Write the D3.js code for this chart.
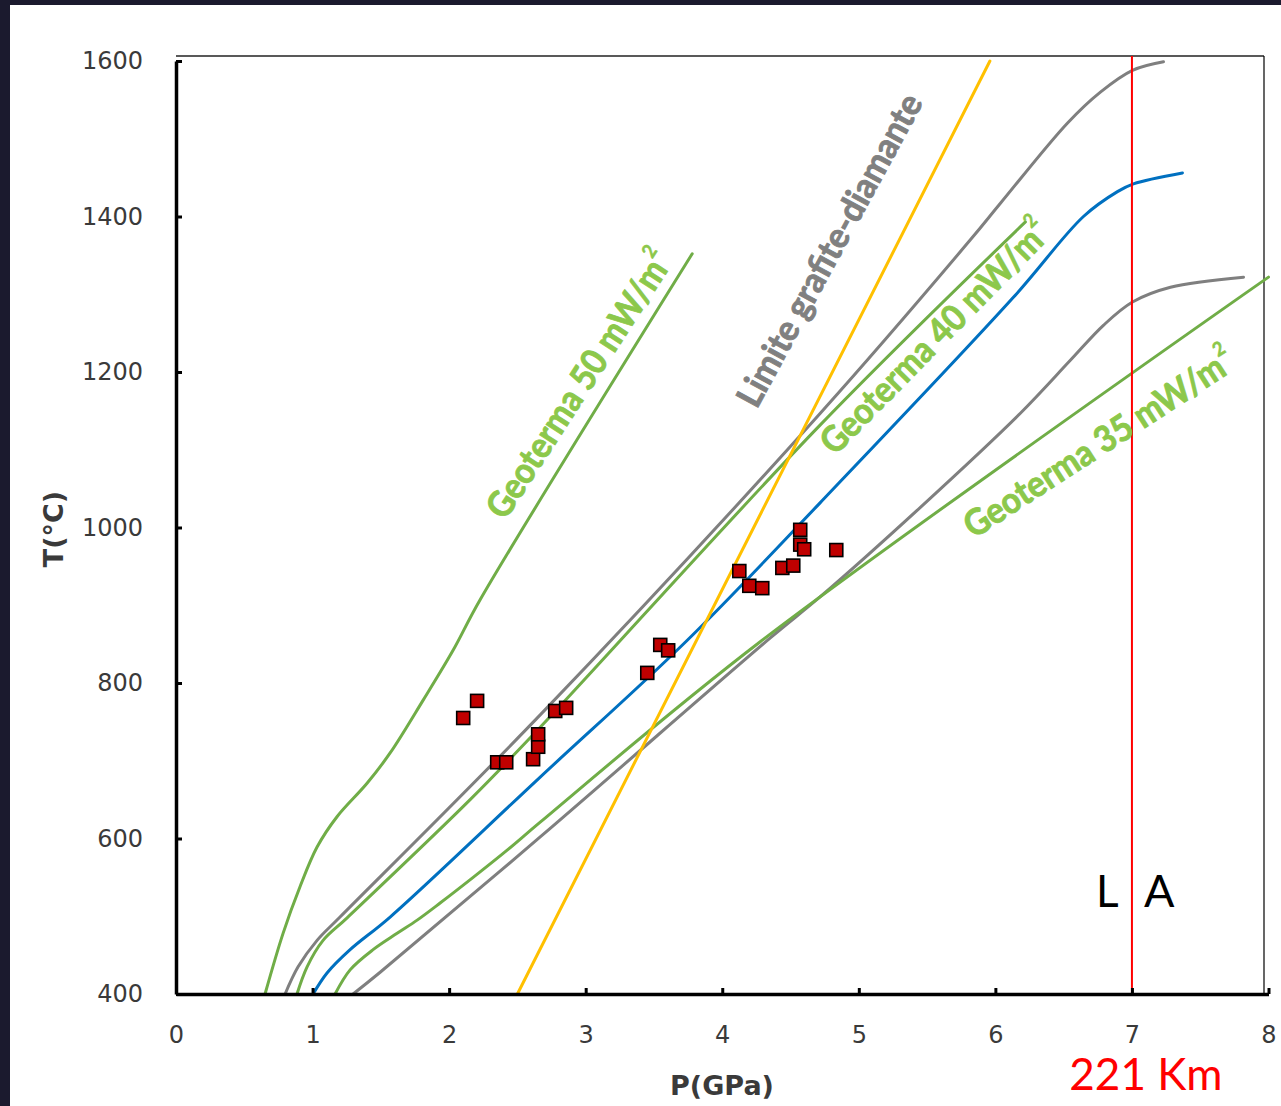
<!DOCTYPE html>
<html><head><meta charset="utf-8">
<script src="https://cdn.jsdelivr.net/npm/d3@7"></script>
<style>html,body{margin:0;padding:0;background:#1b1a2e;}svg{display:block;}</style>
</head><body>
<svg id="chart" width="1281" height="1106"></svg>
<script>
// ---- data (P in GPa, T in °C) ----
const xTicks = [0,1,2,3,4,5,6,7,8];
const yTicks = [400,600,800,1000,1200,1400,1600];

const geotherm50 = [[0.652,400],[0.784,478],[0.908,538],[1.033,589],[1.179,628],[1.399,671],[1.568,710],[1.810,778],[2.029,842],[2.227,907],[3.780,1352]];
const geotherm40 = [[0.886,400],[0.960,435],[1.077,469],[1.253,498],[2.154,650],[2.667,743],[4.718,1132],[6.220,1393]];
const geotherm35 = [[1.165,400],[1.275,431],[1.443,457],[1.619,478],[1.766,495],[1.934,517],[2.176,550],[2.425,585],[2.667,621],[4.278,853],[8.0,1322]];
const grayUpper = [[0.799,400],[0.894,435],[1.033,469],[1.201,499],[2.667,759],[4.718,1147],[5.817,1370],[6.037,1417],[6.527,1520],[6.769,1560],[7.004,1588],[7.231,1599]];
const blueMid = [[1.004,400],[1.106,427],[1.275,457],[1.568,499],[2.667,679],[3.744,855],[4.718,1032],[6.132,1296],[6.645,1400],[6.894,1432],[7.011,1442],[7.370,1456]];
const grayLower = [[1.297,400],[1.495,428],[2.667,602],[4.352,858],[4.718,911],[5.451,1026],[6.183,1147],[6.549,1215],[6.791,1260],[7.004,1290],[7.282,1309],[7.817,1322]];
const graphiteDiamond = [[2.5,400],[5.96,1600]];

const sampleP = [2.103,2.205,2.352,2.418,2.615,2.652,2.652,2.777,2.857,3.451,3.546,3.604,4.125,4.198,4.293,4.440,4.520,4.571,4.571,4.600,4.835];
const sampleT = [755,777,698,698,702,718,734,764,768,813,849,842,944,925,922,948,951,997,978,972,971];

const depthP = 7;
const depthLabel = "221 Km";

// ---- drawing ----
const svg = d3.select("#chart");
svg.append("rect").attr("x",10).attr("y",5).attr("width",1271).attr("height",1101).attr("fill","#ffffff");

const x = d3.scaleLinear().domain([0,8]).range([176,1268.5]);
const y = d3.scaleLinear().domain([400,1600]).range([994,61]);

// frame (top and right)
svg.append("line").attr("x1",x(0)).attr("x2",1264).attr("y1",56).attr("y2",56).attr("stroke","#595959").attr("stroke-width",2);
svg.append("line").attr("x1",1264).attr("x2",1264).attr("y1",56).attr("y2",994).attr("stroke","#000").attr("stroke-width",1.2);

const line = d3.line().x(d=>x(d[0])).y(d=>y(d[1])).curve(d3.curveCatmullRom.alpha(0.5));
const series = [
  {d:geotherm50,c:"#70ad47"},
  {d:grayUpper,c:"#7f7f7f"},
  {d:geotherm40,c:"#70ad47"},
  {d:blueMid,c:"#0070c0"},
  {d:grayLower,c:"#7f7f7f"},
  {d:geotherm35,c:"#70ad47"},
  {d:graphiteDiamond,c:"#ffc000"}
];
series.forEach(s=>{
  svg.append("path").attr("d",line(s.d)).attr("fill","none").attr("stroke",s.c).attr("stroke-width",3).attr("stroke-linecap","round");
});

// red depth line
svg.append("line").attr("x1",x(depthP)).attr("x2",x(depthP)).attr("y1",56).attr("y2",994).attr("stroke","#ff0000").attr("stroke-width",2);

// samples
const sq = 13;
svg.append("g").selectAll("rect").data(sampleP.map((p,i)=>[p,sampleT[i]])).join("rect")
  .attr("x",d=>x(d[0])-sq/2).attr("y",d=>y(d[1])-sq/2).attr("width",sq).attr("height",sq)
  .attr("fill","#c00000").attr("stroke","#000").attr("stroke-width",1.6);

// axes
const xAxis = d3.axisBottom(x).tickValues(xTicks).tickFormat(d3.format("d")).tickSizeInner(-6).tickSizeOuter(0).tickPadding(32);
const gx = svg.append("g").attr("transform","translate(0,994)").call(xAxis);
const yAxis = d3.axisLeft(y).tickValues(yTicks).tickFormat(d3.format("d")).tickSizeInner(-6).tickSizeOuter(0).tickPadding(33);
const gy = svg.append("g").attr("transform","translate(176,0)").call(yAxis);
[gx,gy].forEach(g=>{
  g.select(".domain").attr("stroke","#000").attr("stroke-width",3.5);
  g.selectAll(".tick line").attr("stroke","#000").attr("stroke-width",3);
  g.selectAll(".tick text").attr("fill","#3a3a3a").attr("font-family","DejaVu Sans").attr("font-size",24);
});

// axis titles
svg.append("text").attr("x",722).attr("y",1095).attr("text-anchor","middle")
  .attr("font-family","DejaVu Sans").attr("font-weight","bold").attr("font-size",27).attr("fill","#3a3a3a").text("P(GPa)");
svg.append("text").attr("transform","translate(63,529) rotate(-90)").attr("text-anchor","middle")
  .attr("font-family","DejaVu Sans").attr("font-weight","bold").attr("font-size",27).attr("fill","#3a3a3a").text("T(°C)");

// rotated labels (heavy humanist face, fitted to the reference length)
function label(main, sup, P, T, angle, target, color, fs){
  const t = svg.append("text").attr("font-family","Lato").attr("font-weight","bold")
    .attr("font-size",fs).attr("fill",color).attr("stroke",color).attr("stroke-width",0.9)
    .attr("dominant-baseline","central")
    .attr("transform",`translate(${x(P)},${y(T)}) rotate(${angle})`);
  t.text(main);
  const len = t.node().getComputedTextLength();
  const k = target/len;
  t.attr("transform",`translate(${x(P)},${y(T)}) rotate(${angle}) scale(${k},1)`);
  if(sup){ t.append("tspan").attr("font-size",fs*0.55).attr("stroke-width",0.5).attr("dy",-fs*0.38).text(sup); }
}
label("Geoterma 50 mW/m","2",2.325,1018,-57,300,"#8cc84b",36);
label("Limite grafite-diamante",null,4.164,1160,-61.5,350,"#808080",35);
label("Geoterma 40 mW/m","2",4.752,1104,-45.5,300,"#8cc84b",36);
label("Geoterma 35 mW/m","2",5.785,1000,-33,304,"#8cc84b",36);

// L / A and depth
svg.append("text").attr("x",1096).attr("y",907).attr("font-family","Lato").attr("font-size",44).attr("fill","#000").text("L");
svg.append("text").attr("x",1144).attr("y",907).attr("font-family","Lato").attr("font-size",45).attr("fill","#000").text("A");
svg.append("text").attr("x",x(depthP)+14).attr("y",1090).attr("text-anchor","middle").attr("font-family","Lato").attr("font-size",44).attr("fill","#ff0000").text(depthLabel);
</script>
</body></html>
